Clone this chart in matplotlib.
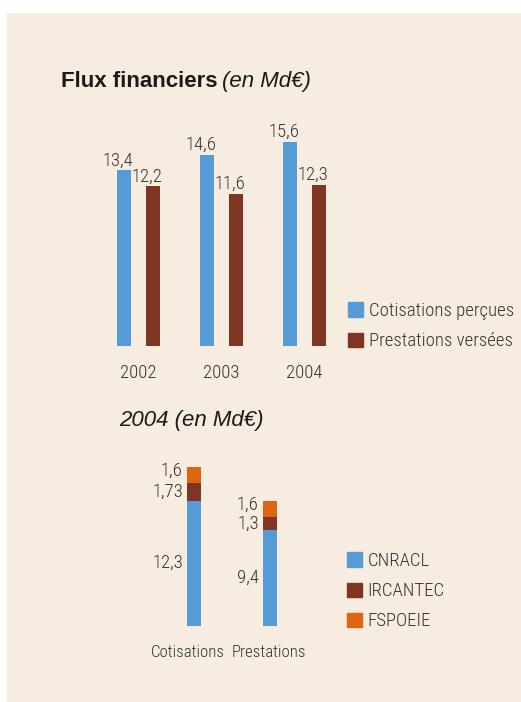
import numpy as np
import matplotlib.pyplot as plt
from matplotlib.patches import Rectangle, Patch
from matplotlib.transforms import ScaledTranslation

# data
years = ['2002', '2003', '2004']
cotisations = [13.4, 14.6, 15.6]
prestations = [12.2, 11.6, 12.3]

cats_2004 = ['Cotisations', 'Prestations']
cnracl = [12.3, 9.4]
ircantec = [1.73, 1.3]
fspoeie = [1.6, 1.6]

BLUE = '#559bd5'
BROWN = '#7e3522'
ORANGE = '#dd6410'
BG = '#f6ecdf'
TXT = '#333333'
FS = 13.5

plt.rcParams['font.family'] = ['Roboto Condensed', 'DejaVu Sans']
plt.rcParams['font.weight'] = 'light'

W, H = 521, 702
fig = plt.figure(figsize=(W / 100, H / 100), dpi=100)
fig.patch.set_facecolor('white')


def px_rect(l, t, r, b):
    return [l / W, 1 - b / H, (r - l) / W, (b - t) / H]


# beige panel
fig.patches.append(Rectangle((7 / W, 0), 1, 1 - 13 / H, transform=fig.transFigure,
                             facecolor=BG, edgecolor='none', zorder=-10))


def clean(ax):
    ax.set_facecolor('none')
    for s in ax.spines.values():
        s.set_visible(False)
    ax.set_yticks([])
    ax.tick_params(axis='x', length=0, labelsize=FS, labelcolor=TXT)


# ---- top chart
ax1 = fig.add_axes(px_rect(97, 110.2, 346, 346))
clean(ax1)
x = np.arange(len(years))
bw = 0.18
off = 0.175
b1 = ax1.bar(x - off, cotisations, bw, color=BLUE)
b2 = ax1.bar(x + off, prestations, bw, color=BROWN)
ax1.set_xlim(-0.5, 2.5)
ax1.set_ylim(0, 18)
ax1.set_xticks(x)
ax1.set_xticklabels(years)
ax1.tick_params(axis='x', pad=13)
for bars in (b1, b2):
    for r in bars:
        v = r.get_height()
        ax1.annotate(f'{v:.1f}'.replace('.', ','), (r.get_x() + r.get_width() / 2, v),
                     xytext=(-4.3, 3.5), textcoords='offset points',
                     ha='center', va='baseline', fontsize=FS, color=TXT)

ax1.legend(handles=[Patch(color=BLUE, label='Cotisations perçues'),
                    Patch(color=BROWN, label='Prestations versées')],
           loc='upper left', bbox_to_anchor=(348 / W, 1 - 302 / H),
           bbox_transform=fig.transFigure, frameon=False, fontsize=FS,
           handlelength=0.8, handleheight=0.8, handletextpad=0.3,
           labelspacing=0.65, borderpad=0, borderaxespad=0, labelcolor=TXT)

# ---- bottom chart
ax2 = fig.add_axes(px_rect(156, 452.6, 308, 626))
clean(ax2)
x2 = np.arange(len(cats_2004))
bw2 = 0.184
bottom = np.zeros(len(cats_2004))
for vals, col, dy in ((cnracl, BLUE, 0), (ircantec, BROWN, 0), (fspoeie, ORANGE, 3)):
    bars = ax2.bar(x2, vals, bw2, bottom=bottom, color=col)
    for r, v, b0 in zip(bars, vals, bottom):
        txt = f'{v:.2f}'.rstrip('0').replace('.', ',')
        ax2.annotate(txt, (r.get_x(), b0 + v / 2), xytext=(-3, dy),
                     textcoords='offset points', ha='right', va='center',
                     fontsize=FS, color=TXT)
    bottom = bottom + np.array(vals)
ax2.set_xlim(-0.5, 1.5)
ax2.set_ylim(0, 17)
ax2.set_xticks(x2)
ax2.set_xticklabels(cats_2004)
ax2.tick_params(axis='x', pad=14, labelsize=12.2)
for lab, dx in zip(ax2.get_xticklabels(), (-6, -1)):
    lab.set_transform(lab.get_transform() + ScaledTranslation(dx / 100, 0, fig.dpi_scale_trans))

ax2.legend(handles=[Patch(color=BLUE, label='CNRACL'),
                    Patch(color=BROWN, label='IRCANTEC'),
                    Patch(color=ORANGE, label='FSPOEIE')],
           loc='upper left', bbox_to_anchor=(347 / W, 1 - 552 / H),
           bbox_transform=fig.transFigure, frameon=False, fontsize=FS,
           handlelength=0.8, handleheight=0.8, handletextpad=0.3,
           labelspacing=0.65, borderpad=0, borderaxespad=0, labelcolor=TXT)

# titles
fig.text(61 / W, 1 - 87 / H, 'Flux financiers', fontsize=16, fontweight='bold',
         family=['Liberation Sans', 'DejaVu Sans'], color='#1a1a1a', va='baseline')
fig.text(222 / W, 1 - 87 / H, '(en Md€)', fontsize=16, style='italic', fontweight='normal',
         family=['Liberation Sans', 'DejaVu Sans'], color='#1a1a1a', va='baseline')
fig.text(119 / W, 1 - 426 / H, '2004 (en Md€)', fontsize=16, style='italic', fontweight='normal',
         family=['Liberation Sans', 'DejaVu Sans'], color='#1a1a1a', va='baseline')

fig.savefig('out.png', dpi=100)
